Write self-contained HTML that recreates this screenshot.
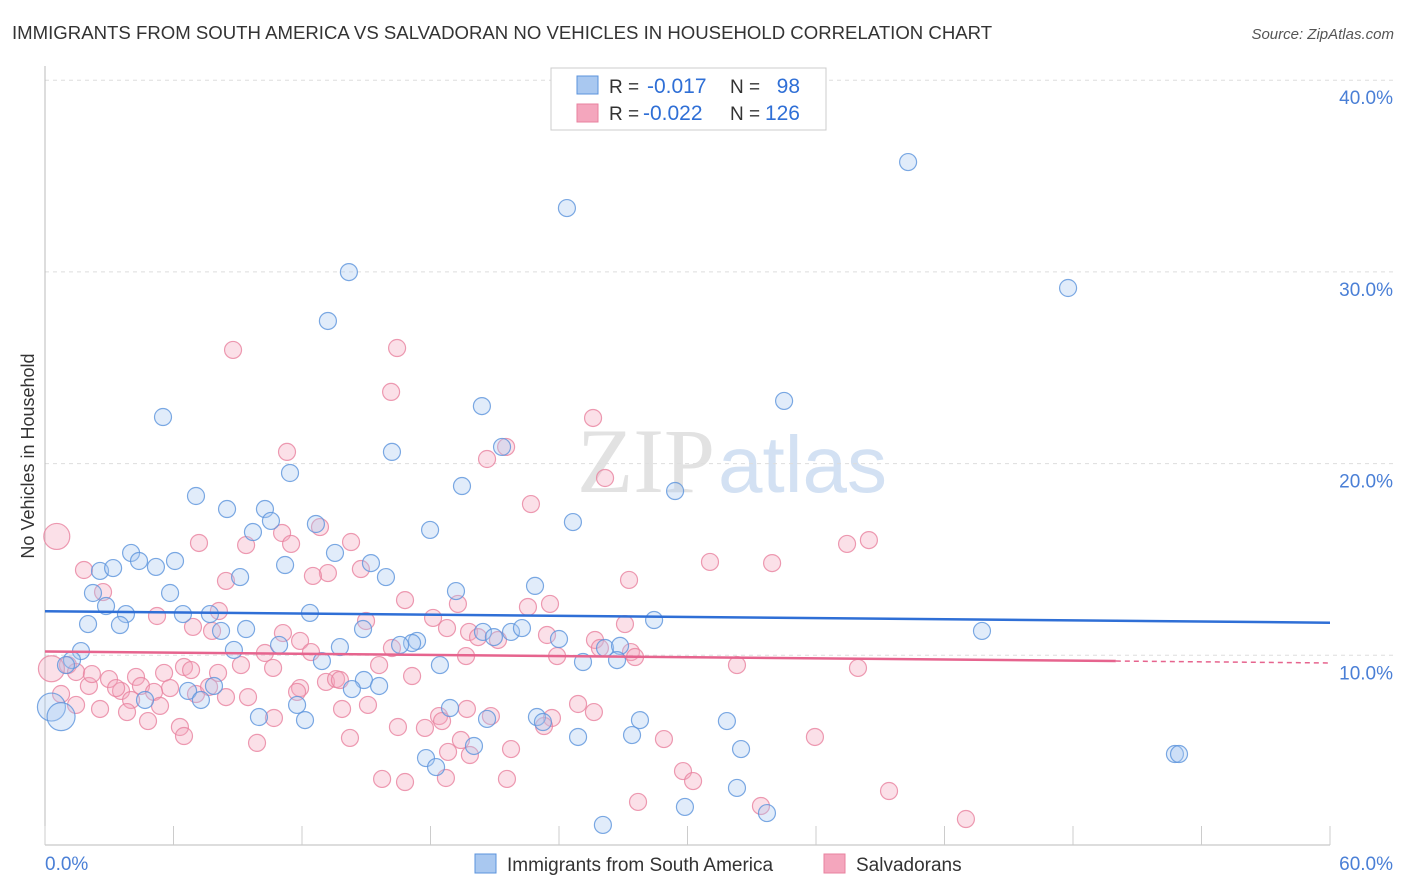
<!DOCTYPE html>
<html><head><meta charset="utf-8"><style>
body{margin:0;background:#fff;font-family:"Liberation Sans",sans-serif;}
#wrap{position:relative;width:1406px;height:892px;overflow:hidden;}
</style></head><body>
<div id="wrap">
<svg id="chart" width="1406" height="892" xmlns="http://www.w3.org/2000/svg"></svg>
</div>
<script>
const xTicks=[0,6,12,18,24,30,36,42,48,54,60];
const yTickVals=[10,20,30,40];
const yTickLabels=["10.0%","20.0%","30.0%","40.0%"];
const blueR=-0.017, blueN=98, pinkR=-0.022, pinkN=126;
const blueTrend=[12.3,11.7];
const pinkTrend=[10.2,9.6];
const bluePx=[[908,162],[567,208],[1068,288],[349,272],[328,321],[163,417],[482,406],[784,401],[392,452],[502,447],[290,473],[462,486],[675,491],[196,496],[265,509],[227,509],[271,521],[316,524],[573,522],[430,530],[253,532],[131,553],[175,561],[139,561],[156,567],[335,553],[371,563],[100,571],[113,568],[240,577],[386,577],[285,565],[93,593],[170,593],[456,591],[535,586],[106,606],[126,614],[183,614],[210,614],[310,613],[120,625],[88,624],[654,620],[221,631],[246,629],[363,629],[511,632],[522,628],[483,632],[494,637],[982,631],[279,645],[417,641],[412,643],[400,645],[559,639],[605,648],[620,646],[81,651],[234,650],[340,647],[72,660],[66,665],[322,661],[583,662],[617,660],[440,665],[364,680],[379,686],[352,689],[188,691],[214,686],[201,700],[145,700],[297,705],[450,708],[537,717],[543,722],[640,720],[727,721],[305,720],[487,719],[259,717],[474,746],[578,737],[632,735],[741,749],[426,758],[436,767],[1175,754],[1179,754],[737,788],[685,807],[767,813],[603,825]];
const pinkPx=[[233,350],[397,348],[391,392],[593,418],[287,452],[487,459],[506,447],[605,478],[531,504],[320,527],[282,533],[199,543],[246,545],[291,544],[351,542],[869,540],[847,544],[710,562],[772,563],[84,570],[361,569],[328,573],[313,576],[226,581],[629,580],[103,592],[405,600],[433,618],[458,604],[550,604],[528,607],[219,611],[157,616],[193,627],[366,621],[625,624],[212,631],[283,633],[447,628],[469,632],[547,635],[595,640],[300,641],[311,652],[498,640],[478,637],[392,648],[265,653],[631,652],[635,657],[466,656],[557,656],[600,648],[164,673],[184,667],[241,665],[191,670],[218,673],[273,668],[379,665],[737,665],[858,668],[68,665],[76,672],[109,679],[136,677],[170,688],[121,691],[141,686],[196,694],[226,697],[89,686],[116,688],[209,687],[300,688],[326,682],[297,692],[336,679],[412,676],[340,680],[61,694],[76,705],[100,709],[131,700],[154,692],[127,712],[148,721],[160,706],[180,727],[184,736],[248,697],[274,718],[368,705],[342,709],[439,716],[442,721],[398,727],[552,718],[578,704],[594,712],[544,726],[467,709],[491,716],[425,728],[461,740],[350,738],[257,743],[511,749],[470,755],[448,752],[664,739],[815,737],[683,771],[693,781],[382,779],[405,782],[446,778],[507,779],[638,802],[761,806],[889,791],[966,819],[92,674]];
const blueX=bluePx.map(p=>+((p[0]-45)*60/1285).toFixed(2));
const blueY=bluePx.map(p=>+((847-p[1])*10/191.7).toFixed(2));
const pinkX=pinkPx.map(p=>+((p[0]-45)*60/1285).toFixed(2));
const pinkY=pinkPx.map(p=>+((847-p[1])*10/191.7).toFixed(2));
const bigBlue=[[0.3,7.3,15],[0.75,6.8,14]];
const bigPink=[[0.3,9.3,15],[0.55,16.2,11]];

const X0=45,X1=1330,Y0=847,PY=19.17;
const sx=v=>X0+(v/60)*(X1-X0);
const sy=v=>Y0-v*PY;
const svg=document.getElementById('chart');
const NS='http://www.w3.org/2000/svg';
function mk(tag,attrs,parent){const e=document.createElementNS(NS,tag);for(const k in attrs)e.setAttribute(k,attrs[k]);(parent||svg).appendChild(e);return e;}

function txt(x,y,s,size,fill,anchor,name){const t=mk('text',{x:x,y:y,'font-size':size,fill:fill,'text-anchor':anchor||'start','font-family':'Liberation Sans, sans-serif'});t.textContent=s;


return t;}

txt(12,39,"IMMIGRANTS FROM SOUTH AMERICA VS SALVADORAN NO VEHICLES IN HOUSEHOLD CORRELATION CHART",18.6,"#333","start","chart-title");
const src=txt(1394,39,"Source: ZipAtlas.com",15,"#555","end","source-label");src.setAttribute('font-style','italic');

const wm=txt(715,492,"ZIP",92,"#e2e2e2","end","watermark-zip");wm.setAttribute('font-family','Liberation Serif, serif');
txt(718,492,"atlas",80,"#d3e1f3","start","watermark-atlas");

yTickVals.forEach((v,i)=>{
const g=mk('line',{x1:X0,x2:1394,y1:sy(v),y2:sy(v),stroke:'#dddddd','stroke-dasharray':'4,4','stroke-width':1});


txt(1393,sy(v)+24,yTickLabels[i],19,"#4a7fd6","end","y-tick-label-"+v);
});
mk('line',{x1:X0,x2:X0,y1:66,y2:Y0-2,stroke:'#bbb'});
mk('line',{x1:X0,x2:X1,y1:Y0-2,y2:Y0-2,stroke:'#bbb'});
xTicks.forEach(v=>{const t=mk('line',{x1:sx(v),x2:sx(v),y1:Y0-21,y2:Y0-2,stroke:'#ccc'});

});
txt(45,870,"0.0%",19,"#4a7fd6","start","x-tick-label-0");
txt(1393,870,"60.0%",19,"#4a7fd6","end","x-tick-label-60");
const yt=txt(34,456,"No Vehicles in Household",18,"#333","middle","y-axis-title");yt.setAttribute('transform','rotate(-90 34 456)');

function dots(xs,ys,fill,stroke,name,r){xs.forEach((x,i)=>{const c=mk('circle',{cx:sx(x),cy:sy(ys[i]),r:r,fill:fill,'fill-opacity':0.35,stroke:stroke,'stroke-opacity':0.8,'stroke-width':1.2});

});}
dots(pinkX,pinkY,'#f4a6bd','#e8829f','salvadoran-point',8.5);
dots(bigPink.map(d=>d[0]),bigPink.map(d=>d[1]),'#f4a6bd','#e8829f','salvadoran-point-large',13);
dots(blueX,blueY,'#a9c8f0','#5b93dc','south-america-point',8.5);
dots(bigBlue.map(d=>d[0]),bigBlue.map(d=>d[1]),'#a9c8f0','#5b93dc','south-america-point-large',14);

const bl=mk('line',{x1:sx(0),x2:sx(60),y1:sy(blueTrend[0]),y2:sy(blueTrend[1]),stroke:'#2f6fd6','stroke-width':2.5});


const pe=50;const pyEnd=pinkTrend[0]+(pinkTrend[1]-pinkTrend[0])*pe/60;
const pl=mk('line',{x1:sx(0),x2:sx(pe),y1:sy(pinkTrend[0]),y2:sy(pyEnd),stroke:'#e6648e','stroke-width':2.5});


const pd=mk('line',{x1:sx(pe),x2:sx(60),y1:sy(pyEnd),y2:sy(pinkTrend[1]),stroke:'#e6648e','stroke-width':1.5,'stroke-dasharray':'5,4'});



const lg=mk('rect',{x:551,y:68,width:275,height:62,fill:'#fff',stroke:'#ccc'});


mk('rect',{x:577,y:76,width:21,height:18,fill:'#a9c8f0',stroke:'#5b93dc'});
mk('rect',{x:577,y:104,width:21,height:18,fill:'#f4a6bd',stroke:'#e8829f'});
txt(609,93,"R = ",19,"#333","start","legend-r-label-blue");
txt(647,93,blueR.toFixed(3),21,"#2f6fd6","start","legend-r-blue");
txt(730,93,"N = ",19,"#333","start","legend-n-label-blue");
txt(800,93,String(blueN),21,"#2f6fd6","end","legend-n-blue");
txt(609,120,"R = ",19,"#333","start","legend-r-label-pink");
txt(643,120,pinkR.toFixed(3),21,"#2f6fd6","start","legend-r-pink");
txt(730,120,"N = ",19,"#333","start","legend-n-label-pink");
txt(800,120,String(pinkN),21,"#2f6fd6","end","legend-n-pink");

mk('rect',{x:475,y:854,width:21,height:19,fill:'#a9c8f0',stroke:'#5b93dc'});
txt(507,871,"Immigrants from South America",19,"#333","start","legend-south-america");
mk('rect',{x:824,y:854,width:21,height:19,fill:'#f4a6bd',stroke:'#e8829f'});
txt(856,871,"Salvadorans",19,"#333","start","legend-salvadorans");
</script>
</body></html>
